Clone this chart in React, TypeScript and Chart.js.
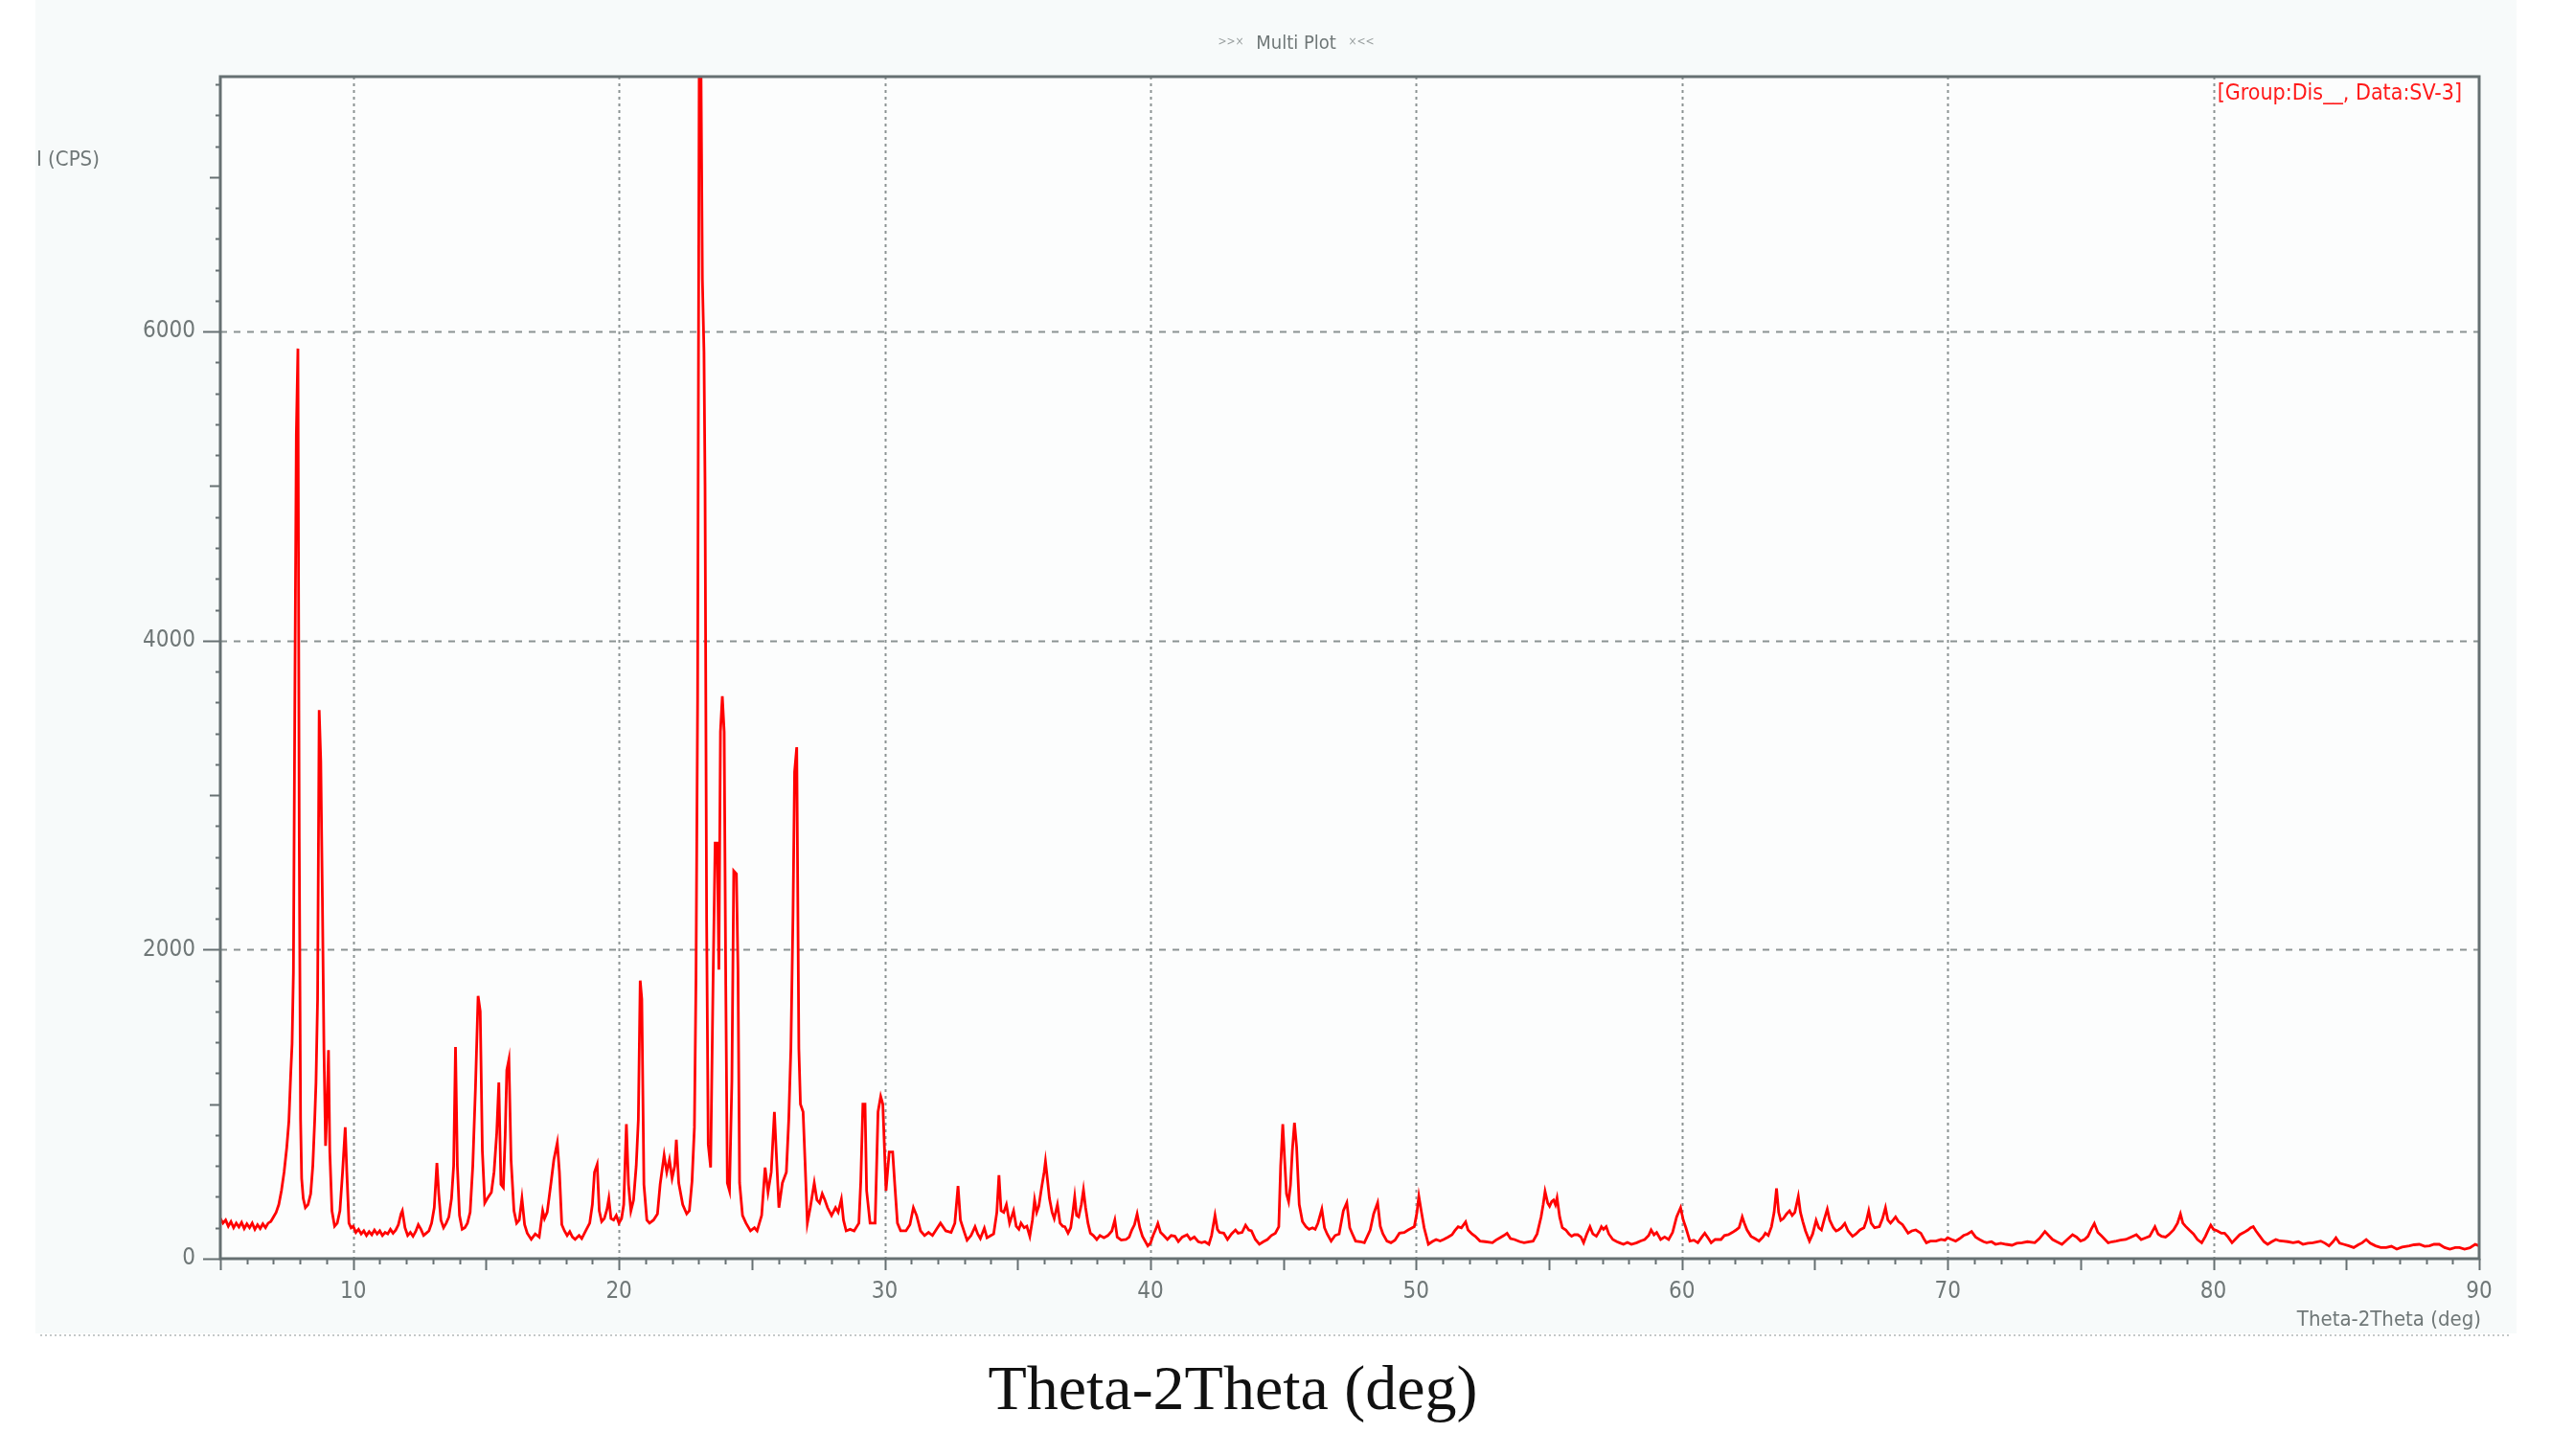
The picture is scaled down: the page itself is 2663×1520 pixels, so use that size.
import React, { useEffect, useRef } from "react";
import { Chart, registerables } from "chart.js";

Chart.register(...registerables);

// ---- data: [2theta (deg), intensity (CPS)] ----
const SEG_05_10: [number, number][] = [
  [5.0, 260], [5.1, 230], [5.2, 250], [5.3, 210], [5.4, 240], [5.5, 200], [5.6, 230], [5.7, 205],
  [5.8, 235], [5.9, 195], [6.0, 225], [6.1, 200], [6.2, 230], [6.3, 190], [6.4, 220], [6.5, 195],
  [6.6, 225], [6.7, 200], [6.8, 230], [6.9, 240], [7.0, 270], [7.1, 300], [7.2, 350], [7.3, 440],
  [7.4, 560], [7.5, 720], [7.58, 890], [7.65, 1200], [7.7, 1390], [7.75, 1850], [7.8, 3500],
  [7.86, 5330], [7.92, 5890], [7.97, 2720], [8.02, 900], [8.06, 520], [8.12, 390], [8.2, 330],
  [8.3, 350], [8.4, 420], [8.48, 600], [8.55, 890], [8.6, 1140], [8.66, 1680], [8.72, 3550],
  [8.78, 3220], [8.84, 2340], [8.9, 1350], [8.96, 730], [9.02, 1000], [9.07, 1350], [9.12, 690],
  [9.2, 310], [9.3, 210], [9.4, 230], [9.5, 310], [9.6, 560], [9.7, 850], [9.76, 560], [9.84, 230],
  [9.92, 200],
];

const SEG_10_20: [number, number][] = [
  [10.0, 210], [10.1, 170], [10.2, 190], [10.3, 160], [10.4, 180], [10.5, 150], [10.6, 175],
  [10.7, 155], [10.8, 185], [10.9, 160], [11.0, 180], [11.1, 150], [11.2, 170], [11.3, 160],
  [11.4, 190], [11.5, 165], [11.6, 185], [11.7, 220], [11.8, 290], [11.85, 310], [11.95, 200],
  [12.05, 150], [12.15, 170], [12.25, 145], [12.35, 175], [12.45, 220], [12.55, 190], [12.65, 150],
  [12.75, 165], [12.85, 180], [12.95, 230], [13.05, 330], [13.15, 620], [13.22, 420], [13.3, 250],
  [13.4, 200], [13.5, 230], [13.6, 270], [13.7, 390], [13.78, 600], [13.85, 1370], [13.92, 600],
  [14.0, 280], [14.1, 190], [14.2, 200], [14.3, 230], [14.4, 300], [14.5, 600], [14.6, 1100],
  [14.7, 1700], [14.78, 1600], [14.86, 700], [14.95, 360], [15.05, 390], [15.2, 430], [15.3, 560],
  [15.4, 810], [15.48, 1140], [15.56, 480], [15.65, 460], [15.72, 800], [15.78, 1220], [15.86, 1290],
  [15.94, 640], [16.05, 310], [16.15, 230], [16.25, 250], [16.35, 390], [16.45, 220], [16.55, 165],
  [16.7, 125], [16.85, 160], [17.0, 140], [17.13, 310], [17.2, 260], [17.3, 300], [17.45, 500],
  [17.55, 640], [17.68, 750], [17.76, 560], [17.85, 220], [17.95, 180], [18.05, 150], [18.15, 175],
  [18.25, 140], [18.35, 125], [18.5, 150], [18.6, 130], [18.75, 180], [18.9, 230], [19.0, 350],
  [19.08, 560], [19.18, 610], [19.26, 310], [19.35, 240], [19.45, 260], [19.55, 320], [19.62, 390],
  [19.7, 260], [19.8, 250], [19.9, 280],
];

const SEG_20_33: [number, number][] = [
  [20.0, 230], [20.1, 260], [20.18, 350], [20.28, 870], [20.36, 480], [20.45, 310], [20.55, 380],
  [20.65, 600], [20.73, 900], [20.8, 1800], [20.86, 1680], [20.94, 480], [21.05, 250], [21.15, 230],
  [21.3, 250], [21.45, 290], [21.55, 480], [21.7, 670], [21.8, 560], [21.9, 640], [22.0, 520],
  [22.1, 600], [22.16, 770], [22.25, 490], [22.4, 350], [22.55, 290], [22.65, 310], [22.75, 500],
  [22.84, 850], [22.9, 1820], [22.96, 3620], [23.02, 7700], [23.08, 7900], [23.14, 6340],
  [23.2, 5870], [23.24, 5000], [23.3, 2180], [23.36, 740], [23.45, 590], [23.54, 1770], [23.62, 2690],
  [23.7, 2690], [23.76, 1870], [23.82, 3410], [23.89, 3640], [23.96, 3410], [24.02, 1770],
  [24.08, 490], [24.16, 440], [24.25, 1150], [24.32, 2510], [24.42, 2490], [24.48, 1870],
  [24.54, 490], [24.65, 280], [24.78, 230], [24.95, 180], [25.1, 200], [25.2, 180], [25.37, 280],
  [25.5, 590], [25.61, 430], [25.73, 560], [25.85, 950], [25.92, 690], [26.02, 330], [26.15, 490],
  [26.3, 560], [26.39, 900], [26.47, 1360], [26.55, 2230], [26.61, 3150], [26.69, 3310],
  [26.77, 1360], [26.83, 1000], [26.93, 950], [27.0, 640], [27.09, 230], [27.2, 330], [27.35, 490],
  [27.45, 380], [27.55, 360], [27.65, 420], [27.75, 380], [27.85, 330], [28.0, 280], [28.15, 330],
  [28.25, 300], [28.37, 385], [28.45, 250], [28.55, 180], [28.7, 190], [28.85, 180], [29.03, 230],
  [29.1, 500], [29.18, 1000], [29.26, 1000], [29.32, 440], [29.45, 230], [29.64, 230], [29.75, 950],
  [29.85, 1050], [29.93, 1000], [30.05, 440], [30.17, 690], [30.3, 690], [30.38, 480], [30.48, 230],
  [30.6, 180], [30.8, 180], [30.95, 220], [31.08, 330], [31.2, 280], [31.35, 180], [31.5, 150],
  [31.65, 170], [31.8, 150], [31.95, 190], [32.1, 230], [32.3, 180], [32.5, 170], [32.64, 230],
  [32.76, 470], [32.85, 250],
];

const SEG_33_61: [number, number][] = [
  [33.0, 170], [33.1, 120], [33.25, 150], [33.4, 207], [33.5, 160], [33.6, 130], [33.75, 197],
  [33.85, 135], [34.0, 150], [34.1, 160], [34.22, 300], [34.3, 540], [34.38, 310], [34.48, 300],
  [34.58, 350], [34.7, 230], [34.85, 310], [34.95, 210], [35.05, 190], [35.13, 230], [35.25, 200],
  [35.35, 210], [35.46, 145], [35.56, 250], [35.64, 380], [35.72, 300], [35.8, 340], [35.9, 455],
  [36.0, 560], [36.05, 630], [36.12, 520], [36.2, 390], [36.3, 300], [36.38, 260], [36.5, 350],
  [36.6, 230], [36.7, 210], [36.78, 207], [36.9, 165], [37.0, 200], [37.08, 300], [37.15, 400],
  [37.22, 280], [37.3, 270], [37.4, 350], [37.48, 445], [37.56, 330], [37.65, 230], [37.74, 165],
  [37.85, 150], [37.98, 124], [38.1, 150], [38.25, 135], [38.4, 150], [38.55, 180], [38.66, 250],
  [38.75, 140], [38.9, 120], [39.08, 124], [39.2, 140], [39.3, 186], [39.4, 220], [39.5, 290],
  [39.6, 200], [39.7, 145], [39.9, 83], [40.0, 100], [40.1, 150], [40.2, 190], [40.28, 228],
  [40.38, 170], [40.5, 150], [40.64, 124], [40.78, 150], [40.92, 145], [41.05, 110], [41.2, 140],
  [41.38, 155], [41.5, 125], [41.65, 140], [41.8, 110], [41.93, 103], [42.05, 110], [42.2, 93],
  [42.3, 150], [42.43, 280], [42.52, 190], [42.6, 170], [42.76, 165], [42.9, 124], [43.05, 160],
  [43.2, 186], [43.3, 165], [43.45, 170], [43.58, 217], [43.7, 186], [43.8, 180], [43.95, 124],
  [44.1, 93], [44.25, 110], [44.4, 124], [44.55, 150], [44.7, 165], [44.83, 207], [44.9, 600],
  [44.98, 870], [45.05, 640], [45.12, 420], [45.2, 370], [45.27, 476], [45.34, 700], [45.42, 880],
  [45.5, 725], [45.6, 350], [45.72, 240], [45.85, 207], [45.97, 190], [46.1, 200], [46.2, 190],
  [46.3, 228], [46.45, 320], [46.55, 200], [46.65, 160], [46.8, 114], [46.95, 150], [47.1, 160],
  [47.26, 310], [47.39, 362], [47.5, 200], [47.6, 160], [47.72, 114], [47.9, 110], [48.05, 103],
  [48.15, 140], [48.27, 186], [48.4, 290], [48.55, 362], [48.65, 210], [48.75, 160], [48.9, 114],
  [49.05, 103], [49.2, 120], [49.37, 165], [49.55, 170], [49.7, 186], [49.85, 200], [49.93, 207],
  [50.03, 300], [50.1, 404], [50.2, 300], [50.3, 200], [50.46, 93], [50.6, 110], [50.75, 124],
  [50.9, 115], [51.03, 124], [51.2, 140], [51.35, 155], [51.45, 180], [51.58, 207], [51.7, 200],
  [51.86, 238], [51.95, 186], [52.1, 160], [52.22, 145], [52.4, 114], [52.6, 110], [52.87, 103],
  [53.0, 120], [53.15, 135], [53.3, 150], [53.42, 165], [53.55, 130], [53.7, 124], [53.9, 110],
  [54.06, 103], [54.25, 110], [54.4, 114], [54.55, 160], [54.7, 270], [54.78, 350], [54.85, 435],
  [54.95, 360], [55.02, 340], [55.1, 370], [55.17, 380], [55.24, 350], [55.3, 393], [55.4, 270],
  [55.5, 200], [55.63, 186], [55.75, 160], [55.85, 145], [55.95, 155], [56.08, 155], [56.2, 140],
  [56.3, 103], [56.42, 160], [56.54, 207], [56.65, 160], [56.78, 145], [56.9, 180], [56.97, 207],
  [57.05, 190], [57.15, 207], [57.25, 160], [57.4, 124], [57.55, 110], [57.65, 103], [57.8, 93],
  [57.95, 105], [58.1, 93], [58.3, 103], [58.45, 115], [58.6, 124], [58.75, 150], [58.84, 186],
  [58.95, 155], [59.05, 170], [59.2, 124], [59.35, 140], [59.5, 124], [59.65, 170], [59.8, 270],
  [59.95, 330], [60.05, 250], [60.15, 200], [60.3, 114], [60.45, 120], [60.6, 103], [60.75, 140],
  [60.86, 165],
];

const SEG_61_90: [number, number][] = [
  [61.0, 130], [61.1, 103], [61.25, 124], [61.47, 124], [61.6, 150], [61.75, 155], [61.9, 170],
  [62.04, 186], [62.15, 200], [62.27, 270], [62.35, 230], [62.45, 186], [62.6, 145], [62.75, 130],
  [62.9, 114], [63.05, 140], [63.14, 165], [63.25, 150], [63.37, 207], [63.47, 300], [63.56, 455],
  [63.64, 300], [63.72, 248], [63.82, 260], [63.94, 290], [64.05, 310], [64.15, 280], [64.25, 300],
  [64.38, 404], [64.46, 300], [64.55, 240], [64.65, 180], [64.8, 114], [64.92, 160], [65.05, 248],
  [65.15, 200], [65.25, 186], [65.35, 250], [65.47, 320], [65.56, 250], [65.7, 200], [65.8, 180],
  [65.89, 186], [66.0, 200], [66.13, 228], [66.25, 180], [66.42, 145], [66.55, 160], [66.7, 186],
  [66.85, 200], [66.95, 250], [67.03, 310], [67.12, 230], [67.25, 200], [67.43, 207], [67.55, 260],
  [67.66, 330], [67.75, 250], [67.85, 230], [67.95, 250], [68.04, 270], [68.15, 240], [68.3, 220],
  [68.51, 165], [68.65, 180], [68.8, 186], [68.99, 165], [69.1, 130], [69.2, 103], [69.35, 114],
  [69.56, 114], [69.75, 125], [69.9, 120], [70.0, 135], [70.15, 124], [70.3, 114], [70.45, 130],
  [70.6, 150], [70.75, 160], [70.9, 176], [71.05, 140], [71.2, 124], [71.35, 110], [71.47, 103],
  [71.65, 110], [71.8, 93], [72.0, 100], [72.2, 93], [72.42, 87], [72.6, 100], [72.8, 103],
  [73.0, 110], [73.28, 103], [73.45, 130], [73.66, 176], [73.8, 150], [73.95, 124], [74.1, 110],
  [74.3, 93], [74.5, 124], [74.7, 155], [74.85, 140], [75.0, 114], [75.15, 124], [75.28, 145],
  [75.4, 190], [75.52, 228], [75.65, 170], [75.8, 145], [76.04, 103], [76.2, 110], [76.35, 114],
  [76.5, 120], [76.7, 124], [76.9, 140], [77.1, 155], [77.28, 124], [77.45, 135], [77.6, 145],
  [77.8, 207], [77.92, 160], [78.05, 145], [78.2, 140], [78.32, 155], [78.5, 186], [78.65, 230],
  [78.76, 290], [78.85, 230], [78.95, 210], [79.09, 186], [79.25, 160], [79.4, 124], [79.56, 103],
  [79.7, 145], [79.82, 190], [79.9, 217], [80.0, 190], [80.15, 180], [80.3, 165], [80.42, 165],
  [80.55, 140], [80.7, 103], [80.85, 130], [80.99, 155], [81.15, 170], [81.3, 186], [81.4, 200],
  [81.5, 207], [81.6, 180], [81.75, 145], [81.9, 110], [82.04, 93], [82.2, 110], [82.35, 124],
  [82.5, 115], [82.61, 114], [82.8, 110], [83.0, 103], [83.2, 110], [83.37, 93], [83.55, 100],
  [83.75, 103], [84.04, 114], [84.2, 100], [84.35, 83], [84.5, 110], [84.61, 135], [84.75, 100],
  [84.9, 93], [85.1, 83], [85.28, 72], [85.45, 90], [85.6, 103], [85.75, 124], [85.9, 100],
  [86.1, 83], [86.3, 72], [86.5, 72], [86.7, 80], [86.9, 62], [87.1, 75], [87.37, 83], [87.55, 90],
  [87.75, 93], [87.95, 80], [88.13, 83], [88.3, 93], [88.5, 93], [88.7, 72], [88.9, 62], [89.1, 72],
  [89.26, 72], [89.45, 62], [89.65, 70], [89.85, 93], [90.0, 83],
];

const X_MIN = 5;
const X_MAX = 90;
const Y_MIN = 0;
const Y_MAX = 7650;
const X_TICK_LABELS = [10, 20, 30, 40, 50, 60, 70, 80, 90];
const Y_TICK_LABELS = [0, 2000, 4000, 6000];

const TITLE = "Multi Plot";
const Y_TITLE = "I (CPS)";
const X_TITLE_SMALL = "Theta-2Theta (deg)";
const LEGEND_TEXT = "[Group:Dis__, Data:SV-3]";
const CAPTION = "Theta-2Theta (deg)";

// ---- styles ----
const NARROW = "'Liberation Sans Narrow', 'DejaVu Sans Condensed', 'Liberation Sans', Arial, sans-serif";
const TEXT_GRAY = "#6f7777";
const FRAME = "#667072";
const GRID = "#8b9393";
const RED = "#ff0000";

const decorPlugin = {
  id: "decor",
  beforeDraw(chart: any) {
    const { ctx, width, height, chartArea: a } = chart;
    ctx.save();
    ctx.fillStyle = "#ffffff";
    ctx.fillRect(0, 0, width, height);
    ctx.fillStyle = "#f7fafa";
    ctx.fillRect(37, 0, 2590, 1392);
    ctx.fillStyle = "#fcfdfd";
    ctx.fillRect(a.left, a.top, a.right - a.left, a.bottom - a.top);

    const xs = chart.scales.x;
    const ys = chart.scales.y;
    ctx.strokeStyle = GRID;
    ctx.lineWidth = 2;
    ctx.setLineDash([3, 4]);
    for (const t of xs.ticks) {
      if (t.value > xs.min && t.value < xs.max) {
        const px = Math.round(xs.getPixelForValue(t.value)) + 0.5;
        ctx.beginPath();
        ctx.moveTo(px, a.top);
        ctx.lineTo(px, a.bottom);
        ctx.stroke();
      }
    }
    ctx.setLineDash([7, 7]);
    for (const t of ys.ticks) {
      if (t.value > ys.min && t.value < ys.max) {
        const py = Math.round(ys.getPixelForValue(t.value)) + 0.5;
        ctx.beginPath();
        ctx.moveTo(a.left, py);
        ctx.lineTo(a.right, py);
        ctx.stroke();
      }
    }
    // dotted separator under the panel
    ctx.strokeStyle = "#c4c9c9";
    ctx.lineWidth = 2;
    ctx.setLineDash([2, 3]);
    ctx.beginPath();
    ctx.moveTo(42, 1394);
    ctx.lineTo(2622, 1394);
    ctx.stroke();
    ctx.restore();
  },
  afterDatasetsDraw(chart: any) {
    const { ctx, chartArea: a } = chart;
    const xs = chart.scales.x;
    const ys = chart.scales.y;
    ctx.save();
    // frame
    ctx.strokeStyle = FRAME;
    ctx.lineWidth = 3;
    ctx.strokeRect(a.left, a.top, a.right - a.left, a.bottom - a.top);
    // x minor/major tick marks
    ctx.lineWidth = 2;
    for (let v = xs.min; v <= xs.max + 1e-9; v += 1) {
      const px = Math.round(xs.getPixelForValue(v)) + 0.5;
      const len = v % 5 === 0 ? 12 : 6;
      ctx.beginPath();
      ctx.moveTo(px, a.bottom);
      ctx.lineTo(px, a.bottom + len);
      ctx.stroke();
    }
    // y tick marks
    for (let v = ys.min; v <= ys.max + 1e-9; v += 200) {
      const py = Math.round(ys.getPixelForValue(v)) + 0.5;
      const len = v % 2000 === 0 ? 18 : v % 1000 === 0 ? 11 : 5;
      ctx.beginPath();
      ctx.moveTo(a.left, py);
      ctx.lineTo(a.left - len, py);
      ctx.stroke();
    }
    // texts
    ctx.textBaseline = "middle";
    ctx.fillStyle = TEXT_GRAY;
    ctx.font = `20px ${NARROW}`;
    ctx.textAlign = "center";
    const cx = 1353;
    ctx.fillText(TITLE, cx, 46);
    ctx.font = `12px ${NARROW}`;
    ctx.fillStyle = "#9aa0a0";
    ctx.fillText(">>\u00d7", cx - 68, 44);
    ctx.fillText("\u00d7<<", cx + 68, 44);

    ctx.fillStyle = TEXT_GRAY;
    ctx.font = `22px ${NARROW}`;
    ctx.textAlign = "left";
    ctx.fillText(Y_TITLE, 38, 167);

    ctx.textAlign = "right";
    ctx.fillText(X_TITLE_SMALL, a.right + 2, 1378);

    ctx.fillStyle = "#ff1a1a";
    ctx.font = `23px ${NARROW}`;
    ctx.fillText(LEGEND_TEXT, a.right - 18, 98);
    ctx.restore();
  },
};

export default function App() {
  const ref = useRef<HTMLCanvasElement>(null);
  useEffect(() => {
    const points = [...SEG_05_10, ...SEG_10_20, ...SEG_20_33, ...SEG_33_61, ...SEG_61_90].map(
      ([x, y]) => ({ x, y })
    );
    const chart = new Chart(ref.current as HTMLCanvasElement, {
      type: "line",
      data: {
        datasets: [
          {
            data: points,
            borderColor: RED,
            borderWidth: 2.8,
            pointRadius: 0,
            tension: 0,
            fill: false,
          },
        ],
      },
      plugins: [decorPlugin],
      options: {
        animation: false,
        responsive: false,
        devicePixelRatio: 1,
        layout: { padding: { left: 100, right: 75, top: 80, bottom: 146 } },
        plugins: { legend: { display: false }, tooltip: { enabled: false }, title: { display: false } },
        scales: {
          x: {
            type: "linear",
            min: X_MIN,
            max: X_MAX,
            grid: { display: false, drawTicks: false },
            border: { display: false },
            afterBuildTicks: (s: any) => {
              s.ticks = X_TICK_LABELS.map((v) => ({ value: v }));
            },
            ticks: {
              autoSkip: false,
              maxRotation: 0,
              padding: 20,
              color: TEXT_GRAY,
              font: { family: NARROW, size: 24 },
              callback: (v: any) => String(v),
            },
            afterFit: (s: any) => {
              s.height = 60;
            },
          },
          y: {
            type: "linear",
            min: Y_MIN,
            max: Y_MAX,
            grid: { display: false, drawTicks: false },
            border: { display: false },
            afterBuildTicks: (s: any) => {
              s.ticks = Y_TICK_LABELS.map((v) => ({ value: v }));
            },
            ticks: {
              autoSkip: false,
              padding: 26,
              color: TEXT_GRAY,
              font: { family: NARROW, size: 24 },
              callback: (v: any) => String(v),
            },
            afterFit: (s: any) => {
              s.width = 130;
            },
          },
        },
      } as any,
    });
    return () => chart.destroy();
  }, []);

  return (
    <div style={{ position: "fixed", left: 0, top: 0, width: 2663, height: 1520, background: "#fff" }}>
      <canvas
        ref={ref}
        width={2663}
        height={1520}
        style={{ position: "absolute", left: 0, top: 0, width: 2663, height: 1520 }}
      />
      <div
        style={{
          position: "absolute",
          left: 0,
          top: 1416,
          width: 2574,
          textAlign: "center",
          fontFamily: "'Liberation Serif', 'Times New Roman', serif",
          fontSize: 66,
          lineHeight: "66px",
          color: "#111",
          whiteSpace: "nowrap",
        }}
      >
        {CAPTION}
      </div>
    </div>
  );
}
